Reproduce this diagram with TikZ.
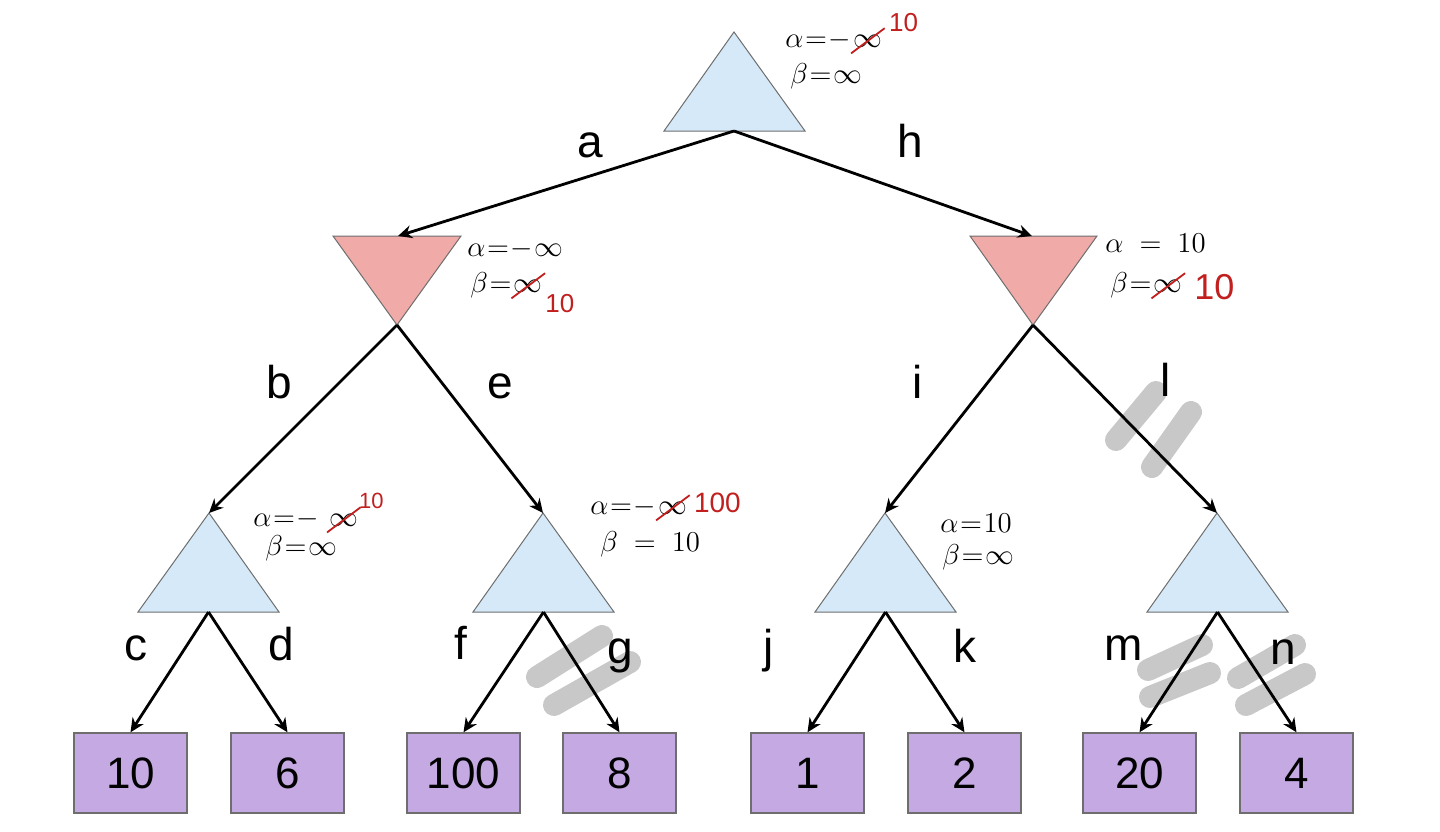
\documentclass[tikz,border=0pt]{standalone}
\usepackage{fontspec}
\setmainfont{Liberation Sans}
\usetikzlibrary{arrows.meta}
\definecolor{maxblue}{HTML}{D6E9F8}
\definecolor{minred}{HTML}{F0AAA8}
\definecolor{leafpur}{HTML}{C5A9E3}
\definecolor{rim}{HTML}{6E6E6E}
\definecolor{ink}{HTML}{C21F1F}
\definecolor{strike}{HTML}{C8C8C8}
\newcommand{\eqq}{\mskip1mu{=}\mskip1mu}
\newcommand{\mns}{{-}\mskip1mu}
\begin{document}
\begin{tikzpicture}[x=0.5pt,y=-0.5pt,
 maxT/.style={fill=maxblue,draw=rim,line width=0.5pt},
 minT/.style={fill=minred,draw=rim,line width=0.5pt},
 leaf/.style={draw=rim,fill=leafpur,line width=0.7pt,minimum width=56.5pt,minimum height=40pt,inner sep=0pt,font=\fontsize{22}{22}\selectfont},
 edge/.style={draw=black,line width=1.4pt,-{Stealth[length=7pt,width=6.5pt]}},
 elab/.style={anchor=base,font=\fontsize{23}{23}\selectfont,inner sep=0pt},
 ann/.style={anchor=base west,inner sep=0pt,font=\fontsize{14}{14}\selectfont},
 redfix/.style={text=ink,anchor=base west,inner sep=0pt,font=\fontsize{13}{13}\selectfont},
 slash/.style={draw=ink,line width=0.9pt},
 prune/.style={draw=strike,line width=11pt,line cap=round}]
\useasboundingbox (0,0) rectangle (1440,831);
\fill[white] (0,0) rectangle (1440,831);

% triangles
\path[maxT] (664,131) -- (734,32) -- (805,131) -- cycle;
\coordinate (rootB) at (734,131);
\path[minT] (333,236) -- (461,236) -- (397,325) -- cycle;
\coordinate (minLt) at (398,236);
\coordinate (minLb) at (397,325);
\path[minT] (970,236) -- (1097,236) -- (1033,325) -- cycle;
\coordinate (minRt) at (1032,236);
\coordinate (minRb) at (1033,325);
\path[maxT] (138,612) -- (209,513) -- (279,612) -- cycle;
\coordinate (m1t) at (209,513);
\coordinate (m1b) at (208.5,612);
\path[maxT] (473,612) -- (543,513) -- (614,612) -- cycle;
\coordinate (m2t) at (543,513);
\coordinate (m2b) at (543.5,612);
\path[maxT] (815,612) -- (885,513) -- (956,612) -- cycle;
\coordinate (m3t) at (885,513);
\coordinate (m3b) at (885.5,612);
\path[maxT] (1147,612) -- (1217,513) -- (1288,612) -- cycle;
\coordinate (m4t) at (1217,513);
\coordinate (m4b) at (1217.5,612);

% leaves
\node[leaf] (L1) at (130.5,773) {10};
\node[leaf] (L2) at (287.5,773) {6};
\node[leaf] (L3) at (463.5,773) {100};
\node[leaf] (L4) at (619.5,773) {8};
\node[leaf] (L5) at (807.5,773) {1};
\node[leaf] (L6) at (964.5,773) {2};
\node[leaf] (L7) at (1139.5,773) {20};
\node[leaf] (L8) at (1296.5,773) {4};

% pruning marks
\coordinate (p1a) at (537,677); \coordinate (p1b) at (602,636);
\coordinate (p2a) at (554,705); \coordinate (p2b) at (630,662);
\draw[prune] (p1a) -- (p1b); \draw[prune] (p2a) -- (p2b);
\coordinate (p3a) at (1116,440); \coordinate (p3b) at (1156,392);
\coordinate (p4a) at (1152,467); \coordinate (p4b) at (1191,412);
\draw[prune] (p3a) -- (p3b); \draw[prune] (p4a) -- (p4b);
\coordinate (p5a) at (1148,670); \coordinate (p5b) at (1202,645);
\coordinate (p6a) at (1150,697); \coordinate (p6b) at (1210,673);
\draw[prune] (p5a) -- (p5b); \draw[prune] (p6a) -- (p6b);
\coordinate (p7a) at (1238,678); \coordinate (p7b) at (1295,645);
\coordinate (p8a) at (1246,705); \coordinate (p8b) at (1305,674);
\draw[prune] (p7a) -- (p7b); \draw[prune] (p8a) -- (p8b);

% edges
\draw[edge] (rootB) -- (minLt);
\draw[edge] (rootB) -- (minRt);
\draw[edge] (minLb) -- (m1t);
\draw[edge] (minLb) -- (m2t);
\draw[edge] (minRb) -- (m3t);
\draw[edge] (minRb) -- (m4t);
\draw[edge] (m1b) -- (L1.north);
\draw[edge] (m1b) -- (L2.north);
\draw[edge] (m2b) -- (L3.north);
\draw[edge] (m2b) -- (L4.north);
\draw[edge] (m3b) -- (L5.north);
\draw[edge] (m3b) -- (L6.north);
\draw[edge] (m4b) -- (L7.north);
\draw[edge] (m4b) -- (L8.north);

% edge labels
\node[elab] (la) at (590,157) {a};
\node[elab] (lh) at (910,157) {h};
\node[elab] (lb) at (279,398) {b};
\node[elab] (le) at (500,398) {e};
\node[elab] (li) at (918,398) {i};
\node[elab] (ll) at (1166,396) {l};
\node[elab] (lc) at (136,660) {c};
\node[elab] (ld) at (281,660) {d};
\node[elab] (lf) at (461,659) {f};
\node[elab] (lg) at (620,663) {g};
\node[elab] (lj) at (769,662) {j};
\node[elab] (lk) at (965,662) {k};
\node[elab] (lm) at (1124,660) {m};
\node[elab] (ln) at (1283,664) {n};

% annotations: root
\node[ann] (rA) at (785,47) {$\alpha\eqq\mns$};
\node[ann] (rAi) at (rA.base east) {$\infty$};
\draw[slash] ([shift={(-1pt,-3pt)}]rAi.south west) -- ([shift={(1pt,3pt)}]rAi.north east);
\node[redfix,anchor=south west] (rAr) at ([xshift=3pt,yshift=1pt]rAi.north east) {10};
\node[ann] (rB) at (790,83) {$\beta\eqq\infty$};

% left min
\node[ann] (nA) at (467,256) {$\alpha\eqq\mns\infty$};
\node[ann] (nB) at (470,292) {$\beta\eqq$};
\node[ann] (nBi) at (nB.base east) {$\infty$};
\draw[slash] ([shift={(-1pt,-3pt)}]nBi.south west) -- ([shift={(1pt,3pt)}]nBi.north east);
\node[redfix,anchor=north west] (nBr) at ([xshift=1pt,yshift=-1pt]nBi.south east) {10};

% right min
\node[ann] (xA) at (1105,252) {$\alpha\;=\;10$};
\node[ann] (xB) at (1110,292) {$\beta\eqq$};
\node[ann] (xBi) at (xB.base east) {$\infty$};
\draw[slash] ([shift={(-1pt,-3pt)}]xBi.south west) -- ([shift={(1pt,3pt)}]xBi.north east);
\node[redfix,font=\fontsize{18}{18}\selectfont] (xBr) at (1194,299) {10};

% level 3 node 1
\node[ann] (aA) at (253,526) {$\alpha\eqq\mns$};
\node[ann] (aAi) at ([xshift=4pt]aA.base east) {$\infty$};
\draw[slash] ([shift={(-1pt,-3pt)}]aAi.south west) -- ([shift={(1pt,3pt)}]aAi.north east);
\node[redfix,anchor=south west,font=\fontsize{11}{11}\selectfont] (aAr) at ([xshift=0pt,yshift=2pt]aAi.north east) {10};
\node[ann] (aB) at (265,555) {$\beta\eqq\infty$};

% level 3 node 2
\node[ann] (bA) at (590,514) {$\alpha\eqq\mns$};
\node[ann] (bAi) at (bA.base east) {$\infty$};
\draw[slash] ([shift={(-1pt,-3pt)}]bAi.south west) -- ([shift={(1pt,3pt)}]bAi.north east);
\node[redfix,font=\fontsize{14}{14}\selectfont] (bAr) at ([xshift=3pt,yshift=1pt]bAi.base east) {100};
\node[ann] (bB) at (600,551) {$\beta\;=\;10$};

% level 3 node 3
\node[ann] (cA) at (940,532) {$\alpha\eqq10$};
\node[ann] (cB) at (942,564) {$\beta\eqq\infty$};
\end{tikzpicture}
\end{document}
